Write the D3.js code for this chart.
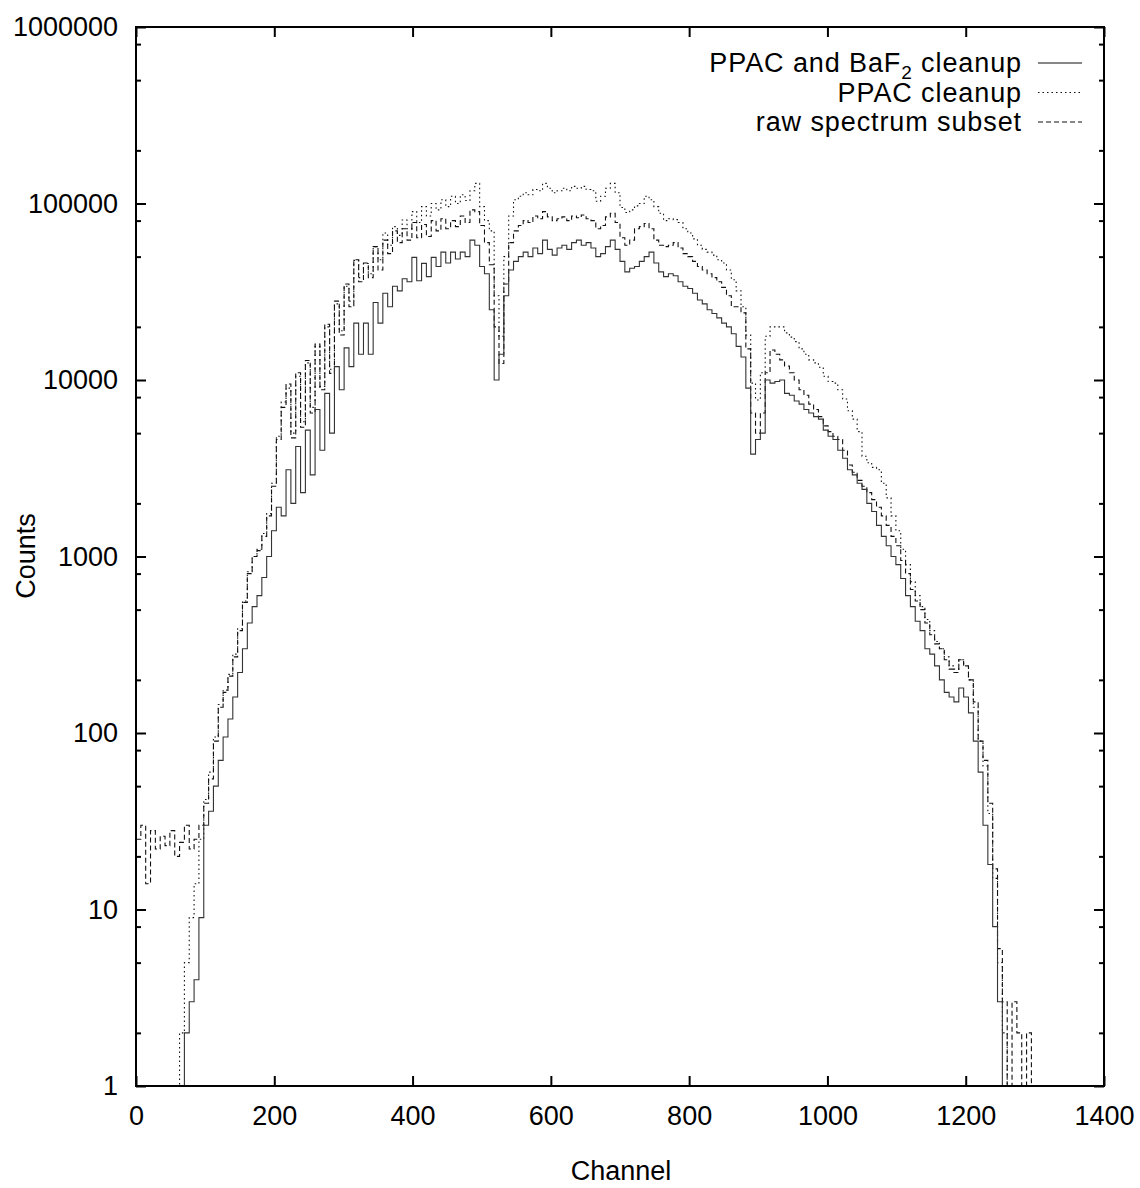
<!DOCTYPE html>
<html lang="en">
<head>
<meta charset="UTF-8">
<title>Counts per channel</title>
<script src="https://d3js.org/d3.v7.min.js"></script>
<style>
  body { margin: 0; background: #fff; }
  svg text { font-family: "Liberation Sans", Arial, sans-serif; font-size: 27px; fill: #000; }
  .legend text { letter-spacing: 0.9px; }
</style>
</head>
<body>
<svg id="chart" width="1140" height="1188"></svg>
<script>
// histogram bins, 7 channels wide, starting at channel 0
const binWidth = 7;
const channels = d3.range(0, 1302, binWidth);

// PPAC and BaF2 cleanup (solid)
const cleanBoth = [
  0, 0, 0, 0, 0, 0, 0, 0, 0, 0,
  2, 3, 4, 9, 30, 36, 50, 70, 95, 120,
  160, 220, 300, 420, 520, 600, 760, 1000, 1400, 1900,
  1700, 3100, 2000, 4200, 2300, 5200, 2900, 6800, 4000, 8400,
  5000, 11900, 8800, 15200, 11900, 21000, 14000, 21000, 14000, 27500,
  21000, 31000, 26000, 34000, 32000, 37500, 36000, 49500, 36500, 45800,
  38500, 49500, 44000, 53000, 46000, 53000, 48500, 53000, 50000, 62000,
  58000, 44000, 40000, 25000, 10000, 14000, 30000, 42000, 47000, 50000,
  53000, 50000, 56000, 52000, 62000, 55000, 51000, 56000, 58000, 55000,
  60000, 62000, 58000, 60000, 56000, 50000, 52000, 57000, 62000, 55000,
  47000, 41000, 43000, 44000, 47000, 50000, 53000, 46000, 41000, 38500,
  40000, 39000, 36000, 34000, 33000, 31000, 28400, 27000, 25000, 23800,
  22500, 21000, 20000, 18300, 15500, 13500, 9000, 3800, 4600, 5000,
  10000, 9600, 9800, 10000, 8400, 8200, 7600, 7300, 6800, 6500,
  6200, 6000, 5200, 4800, 4600, 4000, 3600, 3100, 2900, 2600,
  2400, 2000, 1800, 1500, 1300, 1150, 1000, 900, 750, 600,
  520, 430, 380, 300, 280, 240, 200, 170, 160, 150,
  180, 160, 130, 90, 60, 30, 18, 8, 3, 1,
  0, 0, 0, 0, 0, 0
];

// PPAC cleanup (dotted)
const cleanPpac = [
  0, 0, 0, 0, 0, 0, 0, 0, 0, 2,
  5, 9, 14, 25, 42, 60, 95, 145, 175, 215,
  280, 390, 560, 820, 1000, 1100, 1350, 1750, 2600, 4800,
  7500, 9000, 5000, 10500, 5800, 12500, 7000, 15500, 9200, 20000,
  11500, 27000, 19000, 34000, 28000, 47600, 38000, 45700, 40000, 56900,
  48000, 68000, 58000, 74000, 66000, 80600, 72000, 90000, 78000, 96000,
  85000, 100000, 92000, 105000, 96000, 110000, 100000, 112000, 104000, 118000,
  130000, 96000, 80000, 70000, 30000, 17700, 50000, 85000, 105000, 110000,
  115000, 112000, 120000, 118000, 130000, 122000, 115000, 118000, 122000, 118000,
  125000, 122000, 125000, 120000, 118000, 103000, 110000, 122000, 130000, 115000,
  95000, 89000, 92000, 97000, 100000, 110000, 105000, 96000, 88000, 80000,
  82000, 81000, 78000, 72000, 68000, 63000, 58000, 55000, 53000, 51000,
  48000, 46000, 42000, 37000, 32000, 26000, 18000, 9600, 7700, 11000,
  17700, 20000, 20000, 20000, 18500, 17500, 16500, 15000, 14000, 13000,
  12500, 11800, 10500, 9800, 9600, 8800, 7800, 6700, 6000, 5100,
  3700, 3400, 3200, 3100, 2600, 2150, 1700, 1400, 1100, 900,
  720, 600, 520, 440, 380, 330, 300, 270, 240, 230,
  260, 240, 200, 140, 90, 65, 35, 15, 5, 2,
  0, 0, 0, 0, 0, 0
];

// raw spectrum subset (dashed)
const rawSubset = [
  25, 30, 14, 28, 22, 26, 23, 28, 20, 24,
  30, 22, 25, 30, 40, 55, 90, 140, 170, 210,
  270, 380, 550, 800, 1000, 1080, 1300, 1700, 2500, 4600,
  7000, 9500, 4700, 11000, 5400, 12900, 6500, 16000, 8800, 20700,
  10900, 28000, 18000, 35000, 26000, 48000, 36000, 46000, 38000, 57000,
  42000, 62000, 52000, 70000, 60000, 72000, 62000, 78000, 64000, 76000,
  65000, 80000, 70000, 82000, 72000, 80000, 74000, 85000, 78000, 92000,
  90000, 75000, 60000, 45000, 20000, 12400, 35000, 60000, 70000, 75000,
  80000, 78000, 85000, 82000, 90000, 84000, 80000, 82000, 84000, 80000,
  85000, 83000, 86000, 82000, 80000, 72000, 75000, 84000, 88000, 78000,
  64000, 58000, 62000, 72000, 74000, 77000, 72000, 62000, 58000, 57000,
  58000, 60000, 56000, 52000, 50000, 47000, 44000, 42000, 40000, 38000,
  36000, 33500, 30000, 26000, 26000, 24000, 15000, 6500, 5000, 6500,
  11000, 14800, 14000, 13000, 12000, 11000, 10000, 8800, 8200, 7300,
  6800, 6200, 5500, 5100, 4800, 4600, 4000, 3300, 3000, 2700,
  2500, 2300, 2100, 1900, 1700, 1500, 1300, 1150, 950, 800,
  650, 560, 500, 420, 360, 320, 300, 260, 230, 220,
  260, 240, 200, 150, 90, 70, 40, 17, 6, 3,
  0, 3, 2, 0, 2, 0
];

const xTicks = [0, 200, 400, 600, 800, 1000, 1200, 1400];
const yTicks = [1, 10, 100, 1000, 10000, 100000, 1000000];
const yMinorTicks = [2, 5, 8, 20, 50, 80, 200, 500, 800, 2000, 5000, 8000,
                     20000, 50000, 80000, 200000, 500000, 800000];

const svg = d3.select('#chart');
const x = d3.scaleLinear().domain([0, 1400]).range([136, 1104]);
const y = d3.scaleLog().domain([1, 1e6]).range([1086, 27]);

function tidy(g) {
    g.select('.domain').remove();
    g.selectAll('.tick line').attr('stroke', '#000').attr('stroke-width', 2);
}

// bottom + top
svg.append('g').attr('transform', 'translate(0,1086)')
    .call(d3.axisBottom(x).tickValues(xTicks).tickFormat(d3.format('d')).tickSize(-10).tickPadding(20))
    .call(tidy);
svg.append('g').attr('transform', 'translate(0,27)')
    .call(d3.axisTop(x).tickValues(xTicks).tickFormat('').tickSize(-10))
    .call(tidy);

// left + right, major and minor
svg.append('g').attr('transform', 'translate(136,0)')
    .call(d3.axisLeft(y).tickValues(yTicks).tickFormat(d3.format('d')).tickSize(-10).tickPadding(18))
    .call(tidy);
svg.append('g').attr('transform', 'translate(136,0)')
    .call(d3.axisLeft(y).tickValues(yMinorTicks).tickFormat('').tickSize(-5))
    .call(tidy);
svg.append('g').attr('transform', 'translate(1104,0)')
    .call(d3.axisRight(y).tickValues(yTicks).tickFormat('').tickSize(-10))
    .call(tidy);
svg.append('g').attr('transform', 'translate(1104,0)')
    .call(d3.axisRight(y).tickValues(yMinorTicks).tickFormat('').tickSize(-5))
    .call(tidy);

svg.selectAll('.tick text').attr('fill', '#000');

// clip to plot box
svg.append('clipPath').attr('id', 'plotArea')
    .append('rect').attr('x', 136).attr('y', 27).attr('width', 968).attr('height', 1059);

const line = d3.line()
    .curve(d3.curveStepAfter)
    .x(d => x(d[0]))
    .y(d => y(Math.max(d[1], 1)));

function steps(vals) {
    const pts = channels.map((c, i) => [c, vals[i]]);
    pts.push([channels[channels.length - 1] + binWidth, vals[vals.length - 1]]);
    return pts;
}

const series = [
    { vals: rawSubset, dash: '5,3', color: '#111' },
    { vals: cleanPpac, dash: '1.5,3', color: '#111' },
    { vals: cleanBoth, dash: null, color: '#333' }
];

series.forEach(s => {
    svg.append('path')
        .attr('clip-path', 'url(#plotArea)')
        .attr('d', line(steps(s.vals)))
        .attr('fill', 'none')
        .attr('stroke', s.color)
        .attr('stroke-width', 1.1)
        .attr('stroke-dasharray', s.dash);
});

// frame
svg.append('rect')
    .attr('x', 136).attr('y', 27).attr('width', 968).attr('height', 1059)
    .attr('fill', 'none').attr('stroke', '#000').attr('stroke-width', 2);

// legend
const legendRows = [
    { label: 'PPAC and BaF', sub: '2', rest: ' cleanup', dash: null },
    { label: 'PPAC cleanup', sub: null, rest: '', dash: '1.5,3' },
    { label: 'raw spectrum subset', sub: null, rest: '', dash: '5,3' }
];

const legend = svg.append('g').attr('class', 'legend');
legendRows.forEach((r, i) => {
    const base = 72 + i * 29.5;
    const t = legend.append('text')
        .attr('x', 1022).attr('y', base)
        .attr('text-anchor', 'end');
    t.append('tspan').text(r.label);
    if (r.sub) {
        t.append('tspan').attr('dy', 7).style('font-size', '19px').text(r.sub);
        t.append('tspan').attr('dy', -7).text(r.rest);
    }
    legend.append('line')
        .attr('x1', 1038).attr('x2', 1082)
        .attr('y1', base - 9).attr('y2', base - 9)
        .attr('stroke', '#111').attr('stroke-width', 1.1)
        .attr('stroke-dasharray', r.dash);
});

// axis titles
svg.append('text')
    .attr('x', 621).attr('y', 1180)
    .attr('text-anchor', 'middle')
    .text('Channel');

svg.append('text')
    .attr('transform', 'translate(35,556) rotate(-90)')
    .attr('text-anchor', 'middle')
    .text('Counts');
</script>
</body>
</html>
